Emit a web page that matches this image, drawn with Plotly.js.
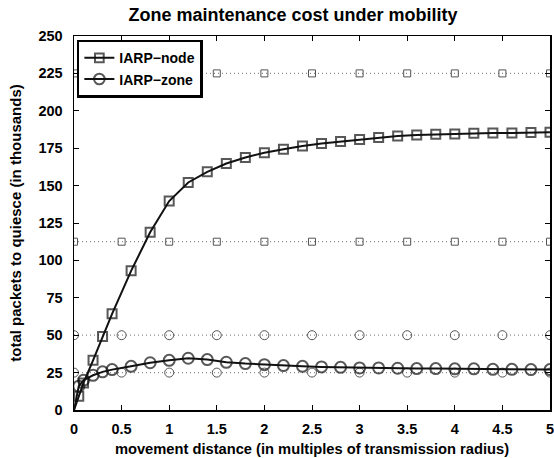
<!DOCTYPE html>
<html>
<head>
<meta charset="utf-8">
<script src="https://cdn.plot.ly/plotly-3.0.1.min.js"></script>
<style>html,body{margin:0;padding:0;background:#fff;}#chart{width:554px;height:458px;}</style>
</head>
<body>
<div id="chart"></div>
<script>
// movement distance (multiples of transmission radius)
const xDist = [0, 0.05, 0.1, 0.2, 0.3, 0.4, 0.6, 0.8, 1.0, 1.2, 1.4, 1.6, 1.8, 2.0, 2.2, 2.4, 2.6, 2.8, 3.0, 3.2, 3.4, 3.6, 3.8, 4.0, 4.2, 4.4, 4.6, 4.8, 5.0];
// IARP-node total packets (thousands)
const iarpNode = [0, 9.2, 18.1, 33.2, 49.2, 64.3, 93, 118.8, 139.7, 152.1, 159.2, 164.8, 168.8, 172, 174.3, 176.5, 178.1, 179.5, 180.8, 182.1, 183.2, 183.9, 184.3, 184.5, 185, 185.2, 185.2, 185.5, 185.7];
// IARP-zone total packets (thousands)
const iarpZone = [0, 15.9, 19.9, 23.2, 25.5, 27, 29.2, 31.6, 33.2, 34.6, 33.7, 31.9, 31, 30.3, 29.7, 29.2, 28.8, 28.5, 28.1, 28.1, 27.9, 27.7, 27.7, 27.5, 27.5, 27.2, 27.2, 27.0, 27.0];
// reference levels (dotted)
const refX = [0, 0.5, 1.0, 1.5, 2.0, 2.5, 3.0, 3.5, 4.0, 4.5, 5.0];
const refNodeLevels = [225, 112.5];
const refZoneLevels = [50, 25];
const xTicks = [0, 0.5, 1, 1.5, 2, 2.5, 3, 3.5, 4, 4.5, 5];
const xTickLabels = ['0', '0.5', '1', '1.5', '2', '2.5', '3', '3.5', '4', '4.5', '5'];
const yTicks = [0, 25, 50, 75, 100, 125, 150, 175, 200, 225, 250];
const yTickLabels = ['0', '25', '50', '75', '100', '125', '150', '175', '200', '225', '250'];

const FONT = 'Liberation Sans, Arial, Helvetica, sans-serif';
const traces = [];

refNodeLevels.forEach(lv => {
  traces.push({
    x: refX, y: refX.map(() => lv), mode: 'lines+markers', showlegend: false, hoverinfo: 'skip',
    line: {color: '#8a8a8a', width: 1.2, dash: '1px,3px'},
    marker: {symbol: 'square-open', size: 7, color: '#555', line: {width: 1, color: '#555'}}
  });
});
refZoneLevels.forEach(lv => {
  traces.push({
    x: refX, y: refX.map(() => lv), mode: 'lines+markers', showlegend: false, hoverinfo: 'skip',
    line: {color: '#8a8a8a', width: 1.2, dash: '1px,3px'},
    marker: {symbol: 'circle-open', size: 9, color: '#555', line: {width: 1, color: '#555'}}
  });
});

const mainSizes = s => xDist.map(v => v === 0 ? 0 : s);

traces.push({
  x: xDist, y: iarpNode, mode: 'lines+markers', name: 'IARP\u2212node',
  line: {color: '#111', width: 2},
  marker: {symbol: 'square-open', size: mainSizes(9), color: '#111', line: {width: 2, color: '#111'}}
});
traces.push({
  x: xDist, y: iarpZone, mode: 'lines+markers', name: 'IARP\u2212zone',
  line: {color: '#111', width: 2},
  marker: {symbol: 'circle-open', size: mainSizes(11), color: '#111', line: {width: 2, color: '#111'}}
});

const layout = {
  width: 554, height: 458,
  margin: {l: 74, r: 4, t: 35.5, b: 47.5},
  paper_bgcolor: '#fff', plot_bgcolor: '#fff',
  font: {family: FONT, color: '#000', size: 14},
  title: {text: '<b>Zone maintenance cost under mobility</b>', font: {family: FONT, size: 18, color: '#000'}, x: 0.529, xanchor: 'center', y: 0.968, yanchor: 'middle'},
  xaxis: {
    range: [0, 5], tickvals: xTicks, ticktext: xTickLabels,
    ticks: 'inside', ticklen: 5, tickwidth: 1, tickcolor: '#000',
    showline: true, linewidth: 1.5, linecolor: '#000', mirror: 'ticks',
    showgrid: false, zeroline: false, ticklabelstandoff: 5, ticklabeloverflow: 'allow',
    tickfont: {family: FONT, size: 14.5, color: '#000', weight: 'bold'},
    title: {text: '<b>movement distance (in multiples of transmission radius)</b>', font: {family: FONT, size: 14.7, color: '#000'}, standoff: 8}
  },
  yaxis: {
    range: [0, 250], tickvals: yTicks, ticktext: yTickLabels,
    ticks: 'inside', ticklen: 5, tickwidth: 1, tickcolor: '#000',
    showline: true, linewidth: 1.5, linecolor: '#000', mirror: 'ticks',
    showgrid: false, zeroline: false, ticklabelstandoff: 7, ticklabeloverflow: 'allow',
    tickfont: {family: FONT, size: 14.5, color: '#000', weight: 'bold'},
    title: {text: '<b>total packets to quiesce (in thousands)</b>', font: {family: FONT, size: 15, color: '#000'}, standoff: 13}
  },
  legend: {
    x: 0.006, y: 0.99, xanchor: 'left', yanchor: 'top',
    bgcolor: '#fff', bordercolor: '#000', borderwidth: 2.5,
    font: {family: FONT, size: 14, color: '#000', weight: 'bold'},
    tracegroupgap: 0, itemwidth: 30
  },
  showlegend: true
};

Plotly.newPlot('chart', traces, layout, {displayModeBar: false, staticPlot: true});
</script>
</body>
</html>
